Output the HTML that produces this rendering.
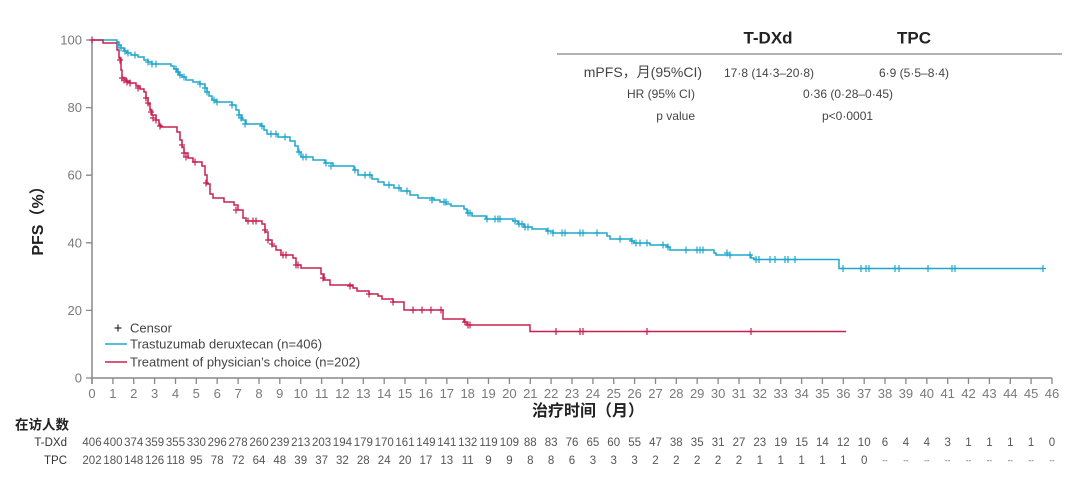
<!DOCTYPE html>
<html><head><meta charset="utf-8"><style>
html,body{margin:0;padding:0;background:#fff;}
svg{display:block;font-family:"Liberation Sans","Noto Sans CJK SC",sans-serif;}
.tk{font-size:13px;fill:#7a7a7a;}
.rn{font-size:11.5px;fill:#555;text-anchor:middle;}
.lg{font-size:13px;fill:#444;}
.tb{font-size:12px;fill:#444;}
</style></head><body>
<svg width="1080" height="487" viewBox="0 0 1080 487" xmlns="http://www.w3.org/2000/svg">
<!-- top table -->
<text x="768" y="43.5" font-size="17" font-weight="bold" fill="#222" text-anchor="middle">T-DXd</text>
<text x="914" y="43.5" font-size="17" font-weight="bold" fill="#222" text-anchor="middle">TPC</text>
<line x1="557" y1="54" x2="1062" y2="54" stroke="#999" stroke-width="1.5"/>
<text x="702" y="77" style="font-size:14px;fill:#444" text-anchor="end">mPFS，月(95%CI)</text>
<text x="724" y="77" class="tb">17·8 (14·3–20·8)</text>
<text x="879" y="77" class="tb">6·9 (5·5–8·4)</text>
<text x="695" y="98" class="tb" text-anchor="end">HR (95% CI)</text>
<text x="803" y="98" class="tb">0·36 (0·28–0·45)</text>
<text x="695" y="120" class="tb" text-anchor="end">p value</text>
<text x="822" y="120" class="tb">p&lt;0·0001</text>

<!-- axes -->
<line x1="92" y1="40" x2="92" y2="384" stroke="#888" stroke-width="1.5"/>
<line x1="92" y1="378" x2="1052" y2="378" stroke="#888" stroke-width="1.5"/>
<path d="M86 40H92M86 107.6H92M86 175.2H92M86 242.8H92M86 310.4H92M86 378H92" stroke="#888" stroke-width="1.3"/>
<g class="tk" text-anchor="end">
<text x="82" y="44.5">100</text><text x="82" y="112">80</text><text x="82" y="179.7">60</text><text x="82" y="247.3">40</text><text x="82" y="314.9">20</text><text x="82" y="382.5">0</text>
</g>
<path stroke="#888" stroke-width="1.3" d="M92 378v6M112.9 378v6M133.7 378v6M154.6 378v6M175.5 378v6M196.3 378v6M217.2 378v6M238.1 378v6M259 378v6M279.8 378v6M300.7 378v6M321.6 378v6M342.4 378v6M363.3 378v6M384.2 378v6M405 378v6M425.9 378v6M446.8 378v6M467.7 378v6M488.5 378v6M509.4 378v6M530.3 378v6M551.1 378v6M572 378v6M592.9 378v6M613.7 378v6M634.6 378v6M655.5 378v6M676.3 378v6M697.2 378v6M718.1 378v6M739 378v6M759.8 378v6M780.7 378v6M801.6 378v6M822.4 378v6M843.3 378v6M864.2 378v6M885 378v6M905.9 378v6M926.8 378v6M947.7 378v6M968.5 378v6M989.4 378v6M1010.3 378v6M1031.1 378v6M1052 378v6"/>
<g class="tk" text-anchor="middle">
<text x="92" y="398">0</text><text x="112.9" y="398">1</text><text x="133.7" y="398">2</text><text x="154.6" y="398">3</text><text x="175.5" y="398">4</text><text x="196.3" y="398">5</text><text x="217.2" y="398">6</text><text x="238.1" y="398">7</text><text x="259" y="398">8</text><text x="279.8" y="398">9</text><text x="300.7" y="398">10</text><text x="321.6" y="398">11</text><text x="342.4" y="398">12</text><text x="363.3" y="398">13</text><text x="384.2" y="398">14</text><text x="405" y="398">15</text><text x="425.9" y="398">16</text><text x="446.8" y="398">17</text><text x="467.7" y="398">18</text><text x="488.5" y="398">19</text><text x="509.4" y="398">20</text><text x="530.3" y="398">21</text><text x="551.1" y="398">22</text><text x="572" y="398">23</text><text x="592.9" y="398">24</text><text x="613.7" y="398">25</text><text x="634.6" y="398">26</text><text x="655.5" y="398">27</text><text x="676.3" y="398">28</text><text x="697.2" y="398">29</text><text x="718.1" y="398">30</text><text x="739" y="398">31</text><text x="759.8" y="398">32</text><text x="780.7" y="398">33</text><text x="801.6" y="398">34</text><text x="822.4" y="398">35</text><text x="843.3" y="398">36</text><text x="864.2" y="398">37</text><text x="885" y="398">38</text><text x="905.9" y="398">39</text><text x="926.8" y="398">40</text><text x="947.7" y="398">41</text><text x="968.5" y="398">42</text><text x="989.4" y="398">43</text><text x="1010.3" y="398">44</text><text x="1031.1" y="398">45</text><text x="1052" y="398">46</text>
</g>

<text transform="translate(43,217) rotate(-90)" text-anchor="middle" font-size="16" font-weight="bold" fill="#222">PFS（%）</text>
<text x="588" y="416" text-anchor="middle" font-size="16" font-weight="bold" fill="#222">治疗时间（月）</text>

<!-- curves -->
<path fill="none" stroke="#1ea8cb" stroke-width="1.5" d="M92,40 H117 V42 H119 V45 H121 V48 H124 V51 H127 V53 H131 V55 H138 V57 H144 V60 H148 V62 H152 V64 H171 V66 H174 V69 H177 V72 H179 V75 H182 V77 H186 V80 H193 V82 H200 V84 H205 V88 H207 V92 H209 V96 H212 V100 H216 V102 H232 V105 H236 V110 H239 V115 H242 V120 H246 V124 H261 V126 H264 V130 H267 V134 H278 V137 H290 V141 H295 V146 H298 V152 H301 V157 H313 V160 H325 V163 H333 V166 H354 V170 H358 V175 H372 V179 H378 V182 H384 V185 H394 V188 H401 V191 H410 V195 H418 V198 H434 V200 H440 V202 H446 V204 H451 V206 H464 V209 H467 V213 H472 V216 H486 V219 H513 V221 H518 V224 H524 V227 H532 V229 H547 V231 H553 V233 H607 V236 H610 V239 H631 V241 H634 V243 H650 V245 H667 V247 H670 V250 H714 V253 H716 V255 H751 V258 H754 V259.5 H839 V268.5 H1044"/>
<path fill="none" stroke="#c8214f" stroke-width="1.5" d="M92,40 H103 V43 H117 V50 H119 V58 H121 V70 H122 V78 H126 V81 H130 V83 H136 V86 H140 V89 H144 V92 H146 V98 H148 V104 H150 V110 H152 V115 H156 V120 H159 V125 H161 V127 H177 V132 H180 V140 H182 V147 H184 V153 H188 V158 H193 V162 H202 V166 H205 V175 H207 V184 H210 V194 H213 V198 H224 V202 H234 V205 H238 V210 H243 V218 H246 V221 H262 V224 H265 V232 H268 V240 H272 V246 H276 V250 H281 V255 H293 V258 H296 V265 H301 V268 H321 V274 H324 V280 H330 V285 H353 V288 H357 V291 H369 V294 H378 V296 H382 V299 H393 V302 H404 V310 H443 V319 H464 V322 H467 V325 H530 V331.5 H846"/>

<!-- censor marks blue -->
<path fill="none" stroke="#1ea8cb" stroke-width="1.2" d="M119 41.5v7M116 45h6M121 44.5v7M118 48h6M125 47.5v7M122 51h6M128 49.5v7M125 53h6M135 51.5v7M132 55h6M148 58.5v7M145 62h6M152 60.5v7M149 64h6M156 60.5v7M153 64h6M176 65.5v7M173 69h6M178 68.5v7M175 72h6M180 71.5v7M177 75h6M184 73.5v7M181 77h6M200 80.5v7M197 84h6M205 84.5v7M202 88h6M207 88.5v7M204 92h6M214 96.5v7M211 100h6M217 98.5v7M214 102h6M232 101.5v7M229 105h6M239 111.5v7M236 115h6M241 114.5v7M238 118h6M245 120.5v7M242 124h6M262 122.5v7M259 126h6M271 130.5v7M268 134h6M276 130.5v7M273 134h6M285 133.5v7M282 137h6M299 148.5v7M296 152h6M303 153.5v7M300 157h6M306 153.5v7M303 157h6M326 159.5v7M323 163h6M331 162.5v7M328 166h6M355 166.5v7M352 170h6M365 171.5v7M362 175h6M370 171.5v7M367 175h6M389 181.5v7M386 185h6M399 184.5v7M396 188h6M407 187.5v7M404 191h6M432 196.5v7M429 200h6M444 198.5v7M441 202h6M446 198.5v7M443 202h6M468 209.5v7M465 213h6M470 209.5v7M467 213h6M487 215.5v7M484 219h6M495 215.5v7M492 219h6M498 215.5v7M495 219h6M500 215.5v7M497 219h6M515 217.5v7M512 221h6M519 220.5v7M516 224h6M522 220.5v7M519 224h6M525 223.5v7M522 227h6M528 223.5v7M525 227h6M548 227.5v7M545 231h6M553 229.5v7M550 233h6M562 229.5v7M559 233h6M565 229.5v7M562 233h6M580 229.5v7M577 233h6M583 229.5v7M580 233h6M597 229.5v7M594 233h6M620 235.5v7M617 239h6M632 237.5v7M629 241h6M636 239.5v7M633 243h6M640 239.5v7M637 243h6M647 239.5v7M644 243h6M663 241.5v7M660 245h6M668 243.5v7M665 247h6M686 246.5v7M683 250h6M697 246.5v7M694 250h6M700 246.5v7M697 250h6M703 246.5v7M700 250h6M727 249.5v7M724 253h6M730 251.5v7M727 255h6M750 251.5v7M747 255h6M756 256v7M753 259.5h6M759 256v7M756 259.5h6M770 256v7M767 259.5h6M775 256v7M772 259.5h6M785 256v7M782 259.5h6M788 256v7M785 259.5h6M795 256v7M792 259.5h6M843 265v7M840 268.5h6M861 265v7M858 268.5h6M866 265v7M863 268.5h6M869 265v7M866 268.5h6M895 265v7M892 268.5h6M899 265v7M896 268.5h6M928 265v7M925 268.5h6M952 265v7M949 268.5h6M955 265v7M952 268.5h6M1043 265v7M1040 268.5h6"/>
<!-- censor marks red -->
<path fill="none" stroke="#c8214f" stroke-width="1.2" d="M92 36.5v7M89 40h6M120 56.5v7M117 60h6M122 74.5v7M119 78h6M124 76.5v7M121 80h6M127 78.5v7M124 82h6M130 79.5v7M127 83h6M138 84.5v7M135 88h6M146 94.5v7M143 98h6M148 99.5v7M145 103h6M151 108.5v7M148 112h6M153 114.5v7M150 118h6M156 116.5v7M153 120h6M160 122.5v7M157 126h6M182 141.5v7M179 145h6M184 149.5v7M181 153h6M186 153.5v7M183 157h6M195 158.5v7M192 162h6M206 179.5v7M203 183h6M236 206.5v7M233 210h6M248 217.5v7M245 221h6M253 217.5v7M250 221h6M256 217.5v7M253 221h6M265 226.5v7M262 230h6M268 236.5v7M265 240h6M272 240.5v7M269 244h6M283 251.5v7M280 255h6M286 251.5v7M283 255h6M296 261.5v7M293 265h6M298 261.5v7M295 265h6M323 274.5v7M320 278h6M350 282.5v7M347 286h6M369 290.5v7M366 294h6M393 298.5v7M390 302h6M413 306.5v7M410 310h6M422 306.5v7M419 310h6M431 306.5v7M428 310h6M441 306.5v7M438 310h6M465 318.5v7M462 322h6M468 321.5v7M465 325h6M470 321.5v7M467 325h6M556 328v7M553 331.5h6M580 328v7M577 331.5h6M583 328v7M580 331.5h6M647 328v7M644 331.5h6M751 328v7M748 331.5h6"/>

<!-- legend -->
<path d="M118 324.5v7M114.5 328h7" stroke="#333" stroke-width="1.3"/>
<text x="130" y="332.5" class="lg">Censor</text>
<line x1="105" y1="344" x2="127" y2="344" stroke="#1ea8cb" stroke-width="1.5"/>
<text x="130" y="348.5" class="lg">Trastuzumab deruxtecan (n=406)</text>
<line x1="105" y1="362" x2="127" y2="362" stroke="#c8214f" stroke-width="1.5"/>
<text x="130" y="366.5" class="lg">Treatment of physician’s choice (n=202)</text>

<!-- risk table -->
<text x="15" y="429.5" font-size="13.5" font-weight="bold" fill="#222">在访人数</text>
<text x="67" y="446" font-size="11.5" fill="#333" text-anchor="end">T-DXd</text>
<text x="67" y="464" font-size="11.5" fill="#333" text-anchor="end">TPC</text>
<g class="rn">
<text x="92" y="446">406</text><text x="112.9" y="446">400</text><text x="133.7" y="446">374</text><text x="154.6" y="446">359</text><text x="175.5" y="446">355</text><text x="196.3" y="446">330</text><text x="217.2" y="446">296</text><text x="238.1" y="446">278</text><text x="259" y="446">260</text><text x="279.8" y="446">239</text><text x="300.7" y="446">213</text><text x="321.6" y="446">203</text><text x="342.4" y="446">194</text><text x="363.3" y="446">179</text><text x="384.2" y="446">170</text><text x="405" y="446">161</text><text x="425.9" y="446">149</text><text x="446.8" y="446">141</text><text x="467.7" y="446">132</text><text x="488.5" y="446">119</text><text x="509.4" y="446">109</text><text x="530.3" y="446">88</text><text x="551.1" y="446">83</text><text x="572" y="446">76</text><text x="592.9" y="446">65</text><text x="613.7" y="446">60</text><text x="634.6" y="446">55</text><text x="655.5" y="446">47</text><text x="676.3" y="446">38</text><text x="697.2" y="446">35</text><text x="718.1" y="446">31</text><text x="739" y="446">27</text><text x="759.8" y="446">23</text><text x="780.7" y="446">19</text><text x="801.6" y="446">15</text><text x="822.4" y="446">14</text><text x="843.3" y="446">12</text><text x="864.2" y="446">10</text><text x="885" y="446">6</text><text x="905.9" y="446">4</text><text x="926.8" y="446">4</text><text x="947.7" y="446">3</text><text x="968.5" y="446">1</text><text x="989.4" y="446">1</text><text x="1010.3" y="446">1</text><text x="1031.1" y="446">1</text><text x="1052" y="446">0</text>
<text x="92" y="464">202</text><text x="112.9" y="464">180</text><text x="133.7" y="464">148</text><text x="154.6" y="464">126</text><text x="175.5" y="464">118</text><text x="196.3" y="464">95</text><text x="217.2" y="464">78</text><text x="238.1" y="464">72</text><text x="259" y="464">64</text><text x="279.8" y="464">48</text><text x="300.7" y="464">39</text><text x="321.6" y="464">37</text><text x="342.4" y="464">32</text><text x="363.3" y="464">28</text><text x="384.2" y="464">24</text><text x="405" y="464">20</text><text x="425.9" y="464">17</text><text x="446.8" y="464">13</text><text x="467.7" y="464">11</text><text x="488.5" y="464">9</text><text x="509.4" y="464">9</text><text x="530.3" y="464">8</text><text x="551.1" y="464">8</text><text x="572" y="464">6</text><text x="592.9" y="464">3</text><text x="613.7" y="464">3</text><text x="634.6" y="464">3</text><text x="655.5" y="464">2</text><text x="676.3" y="464">2</text><text x="697.2" y="464">2</text><text x="718.1" y="464">2</text><text x="739" y="464">2</text><text x="759.8" y="464">1</text><text x="780.7" y="464">1</text><text x="801.6" y="464">1</text><text x="822.4" y="464">1</text><text x="843.3" y="464">1</text><text x="864.2" y="464">0</text>
<text x="885" y="463" font-size="8">--</text><text x="905.9" y="463" font-size="8">--</text><text x="926.8" y="463" font-size="8">--</text><text x="947.7" y="463" font-size="8">--</text><text x="968.5" y="463" font-size="8">--</text><text x="989.4" y="463" font-size="8">--</text><text x="1010.3" y="463" font-size="8">--</text><text x="1031.1" y="463" font-size="8">--</text><text x="1052" y="463" font-size="8">--</text>
</g>
</svg>
</body></html>
